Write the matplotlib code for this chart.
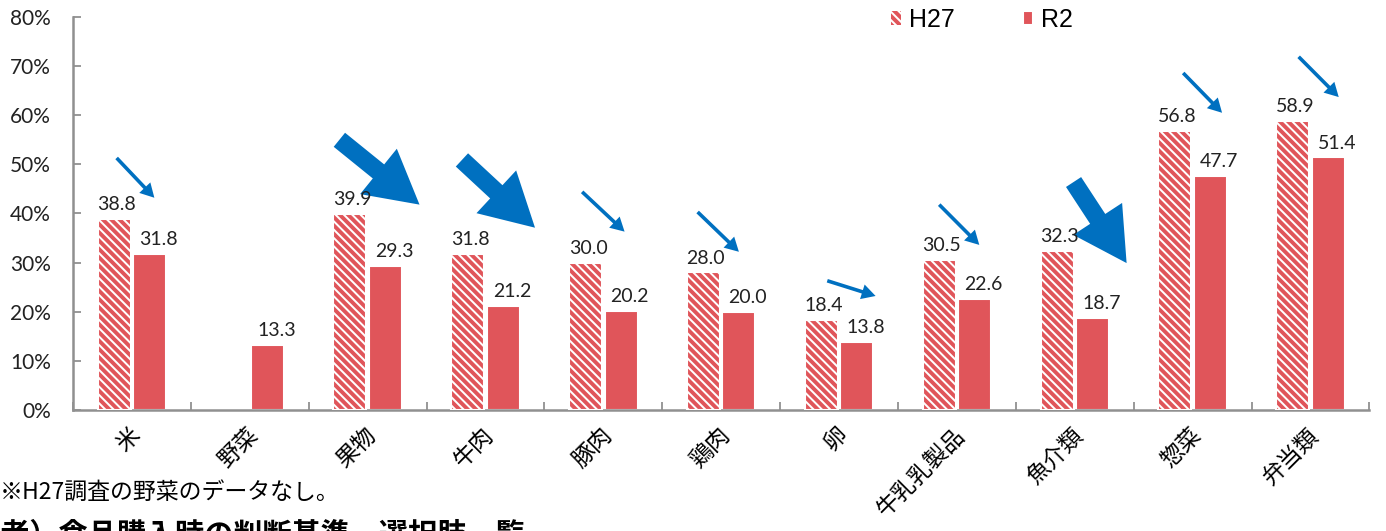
import numpy as np
import matplotlib
matplotlib.use('Agg')
import matplotlib.pyplot as plt

plt.rcParams['font.family'] = ['Noto Sans CJK JP', 'DejaVu Sans']
plt.rcParams['hatch.linewidth'] = 2.8

# purchase rate by food category, H27 vs R2 survey (%)
categories = ['米', '野菜', '果物', '牛肉', '豚肉', '鶏肉', '卵', '牛乳乳製品', '魚介類', '惣菜', '弁当類']
h27 = [38.8, np.nan, 39.9, 31.8, 30.0, 28.0, 18.4, 30.5, 32.3, 56.8, 58.9]
r2 = [31.8, 13.3, 29.3, 21.2, 20.2, 20.0, 13.8, 22.6, 18.7, 47.7, 51.4]
yticks = [0, 10, 20, 30, 40, 50, 60, 70, 80]

# decrease arrows: (category, tail dx, tail dy above H27, head dx, head dy above H27, big?)
arrows = [
    (0, -0.13, 12.5, 0.19, 4.4, False),
    (2, -0.24, 15.1, 0.44, 1.9, True),
    (3, -0.20, 19.1, 0.42, 5.3, True),
    (4, -0.18, 14.4, 0.18, 6.3, False),
    (5, -0.20, 12.3, 0.15, 4.2, False),
    (6, -0.10, 7.9, 0.31, 4.8, False),
    (7, -0.15, 11.3, 0.19, 3.1, False),
    (8, -0.01, 14.1, 0.44, -2.4, True),
    (9, -0.08, 11.8, 0.25, 3.7, False),
    (10, -0.10, 13.0, 0.24, 4.8, False),
]

red = '#E0555A'
blue = '#0070C0'
num_font = ['Lato', 'DejaVu Sans']

fig = plt.figure(figsize=(13.86, 5.31), dpi=100)
ax = fig.add_axes([0.0527, 0.228, 0.9353, 0.740])

x = np.arange(len(categories))
w = 0.28
off = 0.15

ax.bar(x - off, h27, w, color='white', edgecolor=red, linewidth=0, hatch='\\\\\\\\', label='H27', zorder=2)
ax.bar(x - off, h27, w, fill=False, edgecolor='white', linewidth=1.5, zorder=3)
ax.bar(x + off, r2, w, color=red, edgecolor='white', linewidth=1.5, label='R2', zorder=2)

for i in range(len(categories)):
    if not np.isnan(h27[i]):
        ax.text(x[i] - off + 0.02, h27[i] + 1.2, f'{h27[i]:.1f}', ha='center', va='bottom',
                fontsize=14, family=num_font, color='#222222', zorder=6)
    ax.text(x[i] + off + 0.075, r2[i] + 1.2, f'{r2[i]:.1f}', ha='center', va='bottom',
            fontsize=14, family=num_font, color='#222222', zorder=6)

for i, tx, ty, hx, hy, big in arrows:
    if big:
        style = 'simple,head_length=38,head_width=42,tail_width=13'
    else:
        style = 'simple,head_length=10,head_width=11,tail_width=2.6'
    ax.annotate('', xy=(x[i] + hx, h27[i] + hy), xytext=(x[i] + tx, h27[i] + ty),
                arrowprops=dict(arrowstyle=style, mutation_scale=1, color=blue,
                                shrinkA=0, shrinkB=0, linewidth=0),
                zorder=4)

ax.set_xlim(-0.5, len(categories) - 0.5)
ax.set_ylim(0, 80)
ax.set_yticks(yticks)
ax.set_yticklabels([f'{t}%' for t in yticks], family=num_font, fontsize=15, color='#222222')
# category labels sit slightly right of the group centre, rotated 45 degrees
ax.set_xticks(x + 0.11)
ax.set_xticklabels(categories, rotation=45, fontsize=16.5, ha='right', va='top')
ax.tick_params(axis='x', length=0, pad=10)
ax.set_xticks(np.arange(-0.5, len(categories) + 0.5, 1), minor=True)
ax.tick_params(axis='x', which='minor', direction='in', length=6, color='#888888', width=1.2)
ax.tick_params(axis='y', direction='in', length=6, color='#888888', width=1.2, pad=16)

for s in ['top', 'right']:
    ax.spines[s].set_visible(False)
for s in ['left', 'bottom']:
    ax.spines[s].set_color('#909090')
    ax.spines[s].set_linewidth(1.8)

leg = ax.legend(loc='upper left', bbox_to_anchor=(0.614, 1.08), ncol=2, frameon=False,
                handlelength=0.4, handleheight=0.45, columnspacing=2.75,
                handletextpad=0.3, prop={'family': ['Liberation Sans'], 'size': 18})

fig.text(0.0, 0.072, '※H27調査の野菜のデータなし。', fontsize=16.5, ha='left', va='center')
fig.text(-0.042, -0.008, '消費者）食品購入時の判断基準、選択肢一覧', fontsize=21, fontweight='bold',
         ha='left', va='center')

fig.savefig('out.png', dpi=100)
